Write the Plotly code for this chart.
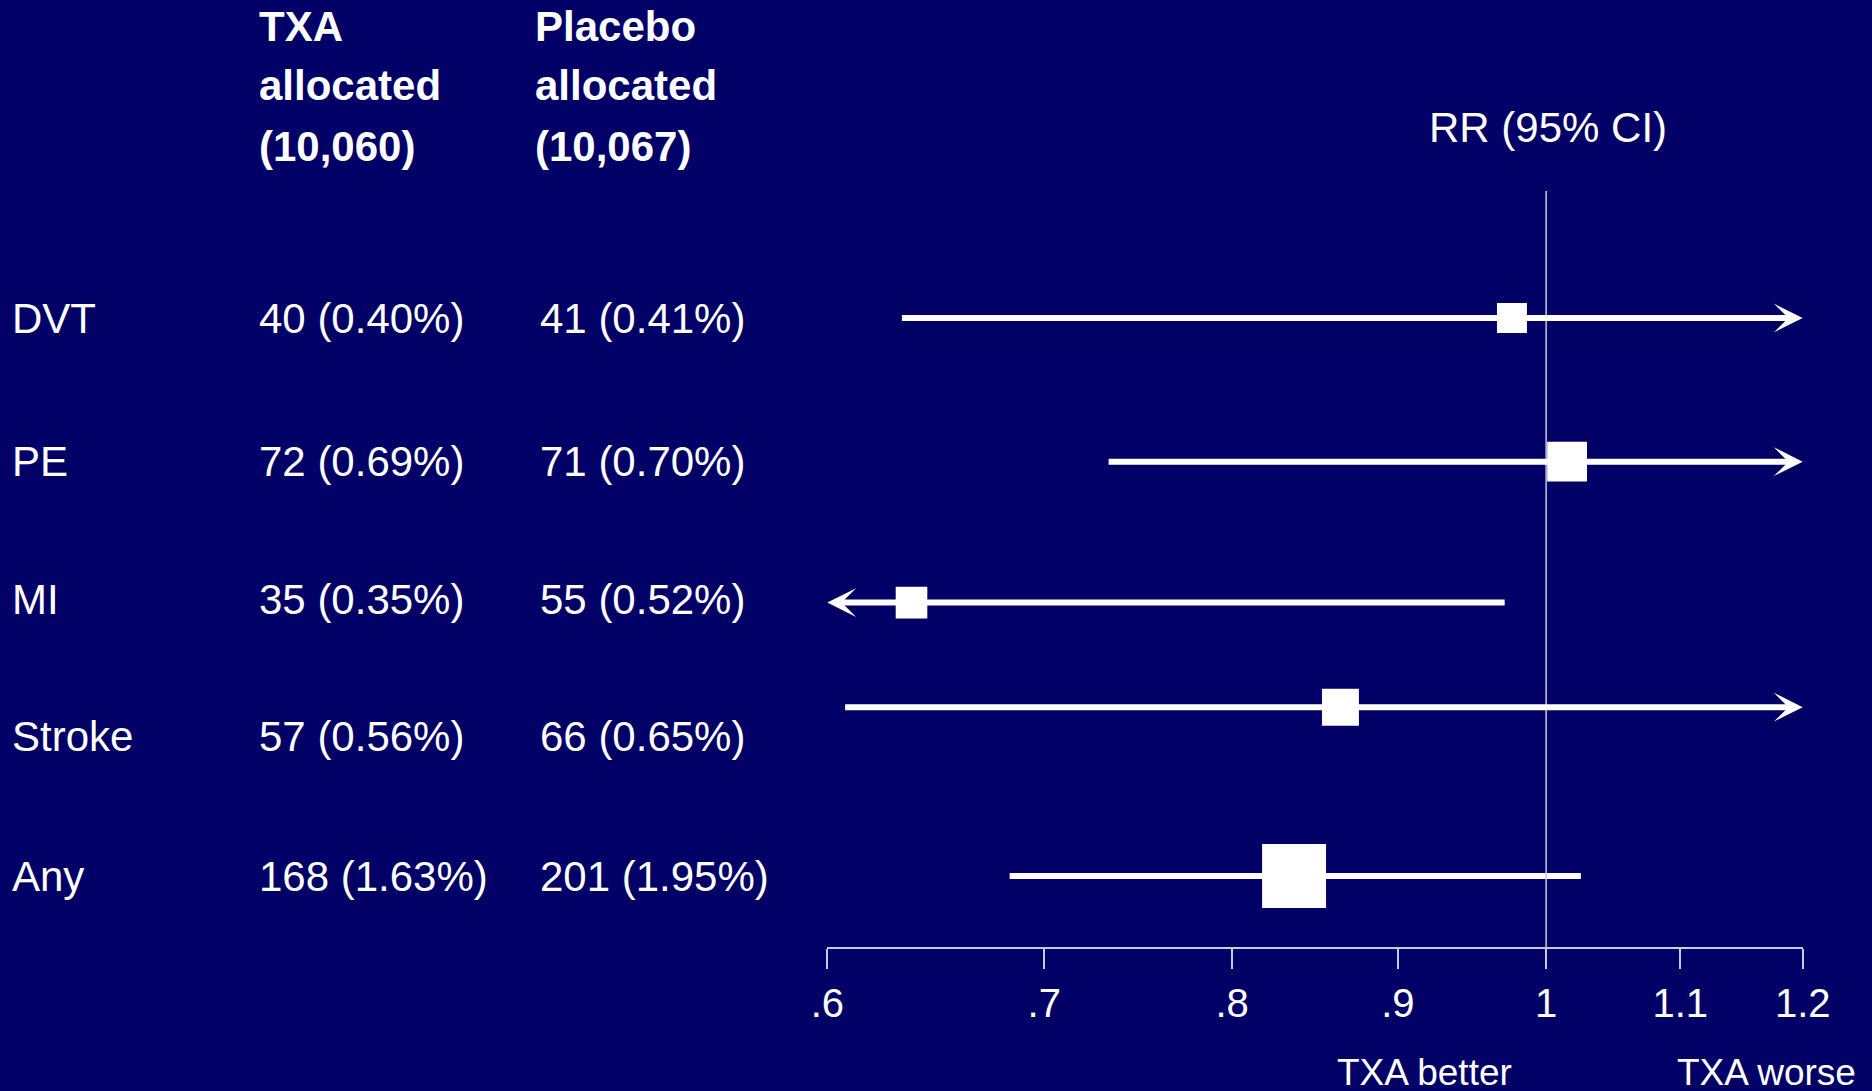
import numpy as np
import plotly.graph_objects as go

# ---- data ----
outcomes = ["DVT", "PE", "MI", "Stroke", "Any"]
txa_events = [40, 72, 35, 57, 168]
txa_pct = [0.40, 0.69, 0.35, 0.56, 1.63]
placebo_events = [41, 71, 55, 66, 201]
placebo_pct = [0.41, 0.70, 0.52, 0.65, 1.95]
rr = [0.976, 1.015, 0.637, 0.864, 0.836]
ci_low = [0.632, 0.732, 0.417, 0.607, 0.683]
ci_high = [1.507, 1.407, 0.972, 1.230, 1.025]
n_txa = 10060
n_placebo = 10067
tick_vals = [0.6, 0.7, 0.8, 0.9, 1.0, 1.1, 1.2]
tick_text = [".6", ".7", ".8", ".9", "1", "1.1", "1.2"]

# ---- layout settings ----
W, H = 1872, 1091
BG = "#000066"
FONT = "Liberation Sans, Arial, sans-serif"
X_MIN, X_MAX = 0.6, 1.2

ROW_TOP_PX, ROW_STEP_PX = 318.0, 139.5          # first row centre, row pitch
row_y = [0.0, 1.03, 2.02, 3.0, 4.0]              # text rows
mark_y = [0.0, 1.03, 2.04, 2.79, 4.0]            # estimate rows
AXIS_PX = 948                                   # x-axis line
REF_TOP_PX = 191                                # top of the RR = 1 line
BOX_SCALE = 3.33                                # square side per sqrt(events)
CI_WIDTH = 6


def px_x(px):
    return px / W


def px_y(py):
    return 1 - py / H


def row_from_px(py):
    return (py - ROW_TOP_PX) / ROW_STEP_PX


fig = go.Figure()
annotations = []

# confidence intervals; those running past the axis end in an arrowhead
for lo, hi, y in zip(ci_low, ci_high, mark_y):
    if hi > X_MAX:
        annotations.append(dict(
            x=np.log10(X_MAX), y=y, ax=np.log10(lo), ay=y,
            xref="x", yref="y", axref="x", ayref="y", text="",
            showarrow=True, arrowhead=3, arrowsize=0.8,
            arrowwidth=CI_WIDTH, arrowcolor="white", standoff=0,
        ))
    elif lo < X_MIN:
        annotations.append(dict(
            x=np.log10(X_MIN), y=y, ax=np.log10(hi), ay=y,
            xref="x", yref="y", axref="x", ayref="y", text="",
            showarrow=True, arrowhead=3, arrowsize=0.8,
            arrowwidth=CI_WIDTH, arrowcolor="white", standoff=0,
        ))
    else:
        fig.add_trace(go.Scatter(
            x=[lo, hi], y=[y, y], mode="lines",
            line=dict(color="white", width=CI_WIDTH),
            hoverinfo="skip",
        ))

# line of no effect
fig.add_trace(go.Scatter(
    x=[1, 1], y=[row_from_px(REF_TOP_PX), row_from_px(AXIS_PX)],
    mode="lines", line=dict(color="#c8c8dc", width=1.5), hoverinfo="skip",
))

# point estimates, box area proportional to number of events
sizes = [BOX_SCALE * np.sqrt(t + p) for t, p in zip(txa_events, placebo_events)]
fig.add_trace(go.Scatter(
    x=rr, y=mark_y, mode="markers",
    marker=dict(symbol="square", size=sizes, color="white", opacity=1,
                line=dict(width=0)),
    hovertemplate="%{x:.2f}<extra></extra>",
))


def label(text, x_px, y, size=42, yref="paper", xanchor="left", bold=False):
    if bold:
        text = "<b>" + text + "</b>"
    annotations.append(dict(
        text=text, x=px_x(x_px), y=y, xref="paper", yref=yref,
        xanchor=xanchor, yanchor="middle", showarrow=False,
        font=dict(family=FONT, size=size, color="white"),
    ))


# column headers
COL1_PX, COL2_PX = 257, 533
for text, cy in [("TXA", 27), ("allocated", 85.5), (f"({n_txa:,})", 146.5)]:
    label(text, COL1_PX, px_y(cy), bold=True)
for text, cy in [("Placebo", 27), ("allocated", 85.5), (f"({n_placebo:,})", 146.5)]:
    label(text, COL2_PX, px_y(cy), bold=True)

label("RR (95% CI)", 1548, px_y(127), xanchor="center")

# table rows
for name, te, tp, pe, pp, y in zip(outcomes, txa_events, txa_pct,
                                   placebo_events, placebo_pct, row_y):
    label(name, 10, y, yref="y")
    label(f"{te} ({tp:.2f}%)", COL1_PX, y, yref="y")
    label(f"{pe} ({pp:.2f}%)", COL2_PX + 5, y, yref="y")

# direction labels under the axis
label("TXA better", 1424, px_y(1072), size=37, xanchor="center")
label("TXA worse", 1766, px_y(1072), size=37, xanchor="center")

fig.update_layout(
    width=W, height=H,
    margin=dict(l=0, r=0, t=0, b=0, pad=0, autoexpand=False),
    paper_bgcolor=BG, plot_bgcolor=BG,
    showlegend=False,
    annotations=annotations,
    xaxis=dict(
        type="log",
        range=[np.log10(X_MIN), np.log10(X_MAX)],
        domain=[827.3 / W, 1802.7 / W],
        anchor="free", position=px_y(AXIS_PX),
        tickvals=tick_vals, ticktext=tick_text,
        ticks="outside", ticklen=20, tickwidth=2, tickcolor="#c8c8dc",
        showline=True, linecolor="#c8c8dc", linewidth=2,
        showgrid=False, zeroline=False, automargin=False,
        tickfont=dict(family=FONT, size=40, color="white"),
        fixedrange=True,
    ),
    yaxis=dict(
        range=[row_from_px(H), row_from_px(0)],
        domain=[0, 1],
        visible=False, showgrid=False, zeroline=False, automargin=False,
        fixedrange=True,
    ),
)

fig.write_html("out.html")
